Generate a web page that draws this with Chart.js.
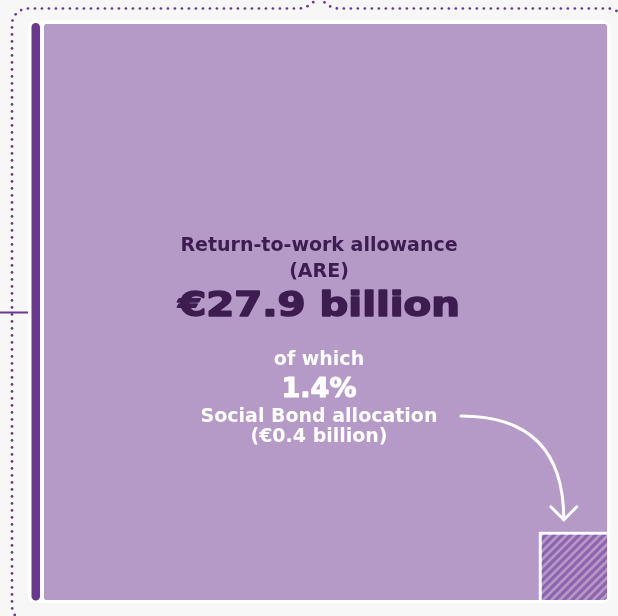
<!DOCTYPE html>
<html>
<head>
<meta charset="utf-8">
<script src="https://cdn.jsdelivr.net/npm/chart.js@4/dist/chart.umd.min.js"></script>
<style>
  html, body { margin: 0; padding: 0; background: #f7f7f7; }
  canvas { display: block; }
</style>
</head>
<body>
<canvas id="chart" width="618" height="616"></canvas>
<script>
// Programme totals and the Social Bond share inside them
const categories = ['Return-to-work allowance (ARE)', 'Social Bond allocation'];
const amountsBn = [27.9, 0.4];
const sharePct = [100, 1.4];

const PANEL = '#b59ac7';
const ACCENT = '#6b3891';
const DARK_TEXT = '#3d1c50';
const HATCH_DARK = '#8e64ae';
const FONT = '"DejaVu Sans", sans-serif';

// Dense point list for a rounded corner (quarter arc)
function arcPoints(cx, cy, r, a0, a1) {
  const pts = [];
  for (let i = 0; i <= 24; i++) {
    const t = a0 + (a1 - a0) * i / 24;
    pts.push([cx + r * Math.cos(t), cy + r * Math.sin(t)]);
  }
  return pts;
}
function quadPoints(x0, y0, qx, qy, x1, y1) {
  const pts = [];
  for (let i = 0; i <= 24; i++) {
    const t = i / 24, u = 1 - t;
    pts.push([u * u * x0 + 2 * u * t * qx + t * t * x1, u * u * y0 + 2 * u * t * qy + t * t * y1]);
  }
  return pts;
}
// Place round dots at a fixed spacing along a polyline
function dotAlong(ctx, pts, spacing, r) {
  let carry = 0;
  ctx.beginPath();
  ctx.arc(pts[0][0], pts[0][1], r, 0, Math.PI * 2);
  ctx.fill();
  for (let i = 1; i < pts.length; i++) {
    const [x0, y0] = pts[i - 1], [x1, y1] = pts[i];
    const len = Math.hypot(x1 - x0, y1 - y0);
    let d = spacing - carry;
    while (d <= len) {
      const t = d / len;
      ctx.beginPath();
      ctx.arc(x0 + (x1 - x0) * t, y0 + (y1 - y0) * t, r, 0, Math.PI * 2);
      ctx.fill();
      d += spacing;
    }
    carry = len - (d - spacing);
  }
}

// Background frame: white rim, dark accent bar, dotted outline and connector
const framePlugin = {
  id: 'frame',
  beforeDraw(chart) {
    const ctx = chart.ctx;
    const a = chart.chartArea;
    ctx.save();
    ctx.fillStyle = '#f7f7f7';
    ctx.fillRect(0, 0, chart.width, chart.height);

    // dotted outline (runs off the canvas on the right and bottom, opens at top)
    ctx.fillStyle = ACCENT;
    const leftRun = [].concat(
      quadPoints(318, -3, 309, 8.5, 298, 8.5),
      [[28, 8.5]],
      arcPoints(28, 24.5, 16, -Math.PI / 2, -Math.PI),
      [[12, 606]],
      arcPoints(28, 606, 16, Math.PI, Math.PI / 2),
      [[640, 622]]
    );
    const rightRun = [].concat(
      quadPoints(320, -3, 328, 8.5, 339, 8.5),
      [[608, 8.5]],
      arcPoints(608, 24.5, 16, -Math.PI / 2, 0),
      [[624, 640]]
    );
    dotAlong(ctx, leftRun, 7, 1.35);
    dotAlong(ctx, rightRun, 7, 1.35);

    // connector line into the block
    ctx.strokeStyle = ACCENT;
    ctx.lineWidth = 2;
    ctx.beginPath();
    ctx.moveTo(0, 312.5);
    ctx.lineTo(30, 312.5);
    ctx.stroke();

    // white rim behind the block
    ctx.fillStyle = '#ffffff';
    ctx.beginPath();
    ctx.roundRect(a.left - 16, a.top - 3.5, a.right - a.left + 19, a.bottom - a.top + 6.5, 7);
    ctx.fill();

    // dark accent bar on the left
    ctx.fillStyle = ACCENT;
    ctx.beginPath();
    ctx.roundRect(a.left - 12.5, a.top - 1, 8.5, a.bottom - a.top + 1.5, 4.25);
    ctx.fill();
    ctx.restore();
  }
};

// Hatched Social Bond cell, arrow and labels
const cellPlugin = {
  id: 'cell',
  afterDatasetsDraw(chart) {
    const ctx = chart.ctx;
    const bar = chart.getDatasetMeta(0).data[0];
    const p = bar.getProps(['x', 'y', 'base', 'width'], true);
    const left = p.x - p.width / 2, right = p.x + p.width / 2;
    const top = p.y, bottom = p.base;
    const W = right - left, H = bottom - top;

    // treemap cell: area proportional to the bond allocation
    const frac = amountsBn[1] / amountsBn[0];
    const side = Math.sqrt(frac * W * H);
    const cl = right - side, ct = bottom - side;
    const gap = 3;

    ctx.save();
    ctx.beginPath();
    ctx.roundRect(left, top, W, H, 4);
    ctx.clip();
    ctx.fillStyle = '#ffffff';
    ctx.fillRect(cl, ct, side, side);
    ctx.beginPath();
    ctx.rect(cl + gap, ct + gap, side - gap, side - gap);
    ctx.clip();
    ctx.fillStyle = PANEL;
    ctx.fillRect(cl, ct, side, side);
    ctx.strokeStyle = HATCH_DARK;
    ctx.lineWidth = 3.2;
    const step = 8.3;
    for (let k = -side; k < side * 2; k += step) {
      ctx.beginPath();
      ctx.moveTo(cl + k, bottom + 2);
      ctx.lineTo(cl + k + side + 4, ct - 2);
      ctx.stroke();
    }
    ctx.restore();

    // curved arrow pointing at the cell
    const tipX = cl + 25, tipY = ct - 12;
    ctx.save();
    ctx.strokeStyle = '#ffffff';
    ctx.lineWidth = 3;
    ctx.lineCap = 'round';
    ctx.lineJoin = 'round';
    ctx.beginPath();
    ctx.moveTo(461, 416);
    ctx.quadraticCurveTo(tipX, 416, tipX, tipY);
    ctx.stroke();
    ctx.beginPath();
    ctx.moveTo(tipX - 13, tipY - 13);
    ctx.lineTo(tipX, tipY);
    ctx.lineTo(tipX + 13, tipY - 13);
    ctx.stroke();
    ctx.restore();

    // labels
    const cx = 319;
    ctx.save();
    ctx.textAlign = 'center';
    ctx.textBaseline = 'alphabetic';
    ctx.fillStyle = DARK_TEXT;
    ctx.font = '700 19px ' + FONT;
    ctx.fillText('Return-to-work allowance', cx, 251);
    ctx.fillText('(ARE)', cx, 277);

    // headline figure, set wide and heavy
    ctx.save();
    ctx.translate(cx, 316);
    ctx.scale(1.22, 1);
    ctx.font = '700 33px ' + FONT;
    ctx.strokeStyle = DARK_TEXT;
    ctx.lineWidth = 1.6;
    ctx.lineJoin = 'round';
    const head = '€' + amountsBn[0].toFixed(1) + ' billion';
    ctx.strokeText(head, 0, 0);
    ctx.fillText(head, 0, 0);
    ctx.restore();

    ctx.fillStyle = '#ffffff';
    ctx.font = '700 19px ' + FONT;
    ctx.fillText('of which', cx, 365);
    ctx.save();
    ctx.font = '700 27px ' + FONT;
    ctx.strokeStyle = '#ffffff';
    ctx.lineWidth = 1.2;
    ctx.lineJoin = 'round';
    const pct = sharePct[1].toFixed(1) + '%';
    ctx.strokeText(pct, cx, 397);
    ctx.fillText(pct, cx, 397);
    ctx.restore();
    ctx.font = '700 19px ' + FONT;
    ctx.fillText(categories[1], cx, 422);
    ctx.fillText('(€' + amountsBn[1].toFixed(1) + ' billion)', cx, 442);
    ctx.restore();
  }
};

new Chart(document.getElementById('chart'), {
  type: 'bar',
  data: {
    labels: [categories[0]],
    datasets: [{
      label: categories[0],
      data: [amountsBn[0]],
      backgroundColor: PANEL,
      borderWidth: 0,
      borderRadius: 4,
      borderSkipped: false,
      barPercentage: 1,
      categoryPercentage: 1
    }]
  },
  options: {
    responsive: false,
    animation: false,
    devicePixelRatio: 1,
    layout: { padding: { left: 44, right: 11, top: 24, bottom: 16 } },
    scales: {
      x: { display: false },
      y: { display: false, min: 0, max: amountsBn[0] }
    },
    plugins: {
      legend: { display: false },
      tooltip: { enabled: false }
    }
  },
  plugins: [framePlugin, cellPlugin]
});
</script>
</body>
</html>
